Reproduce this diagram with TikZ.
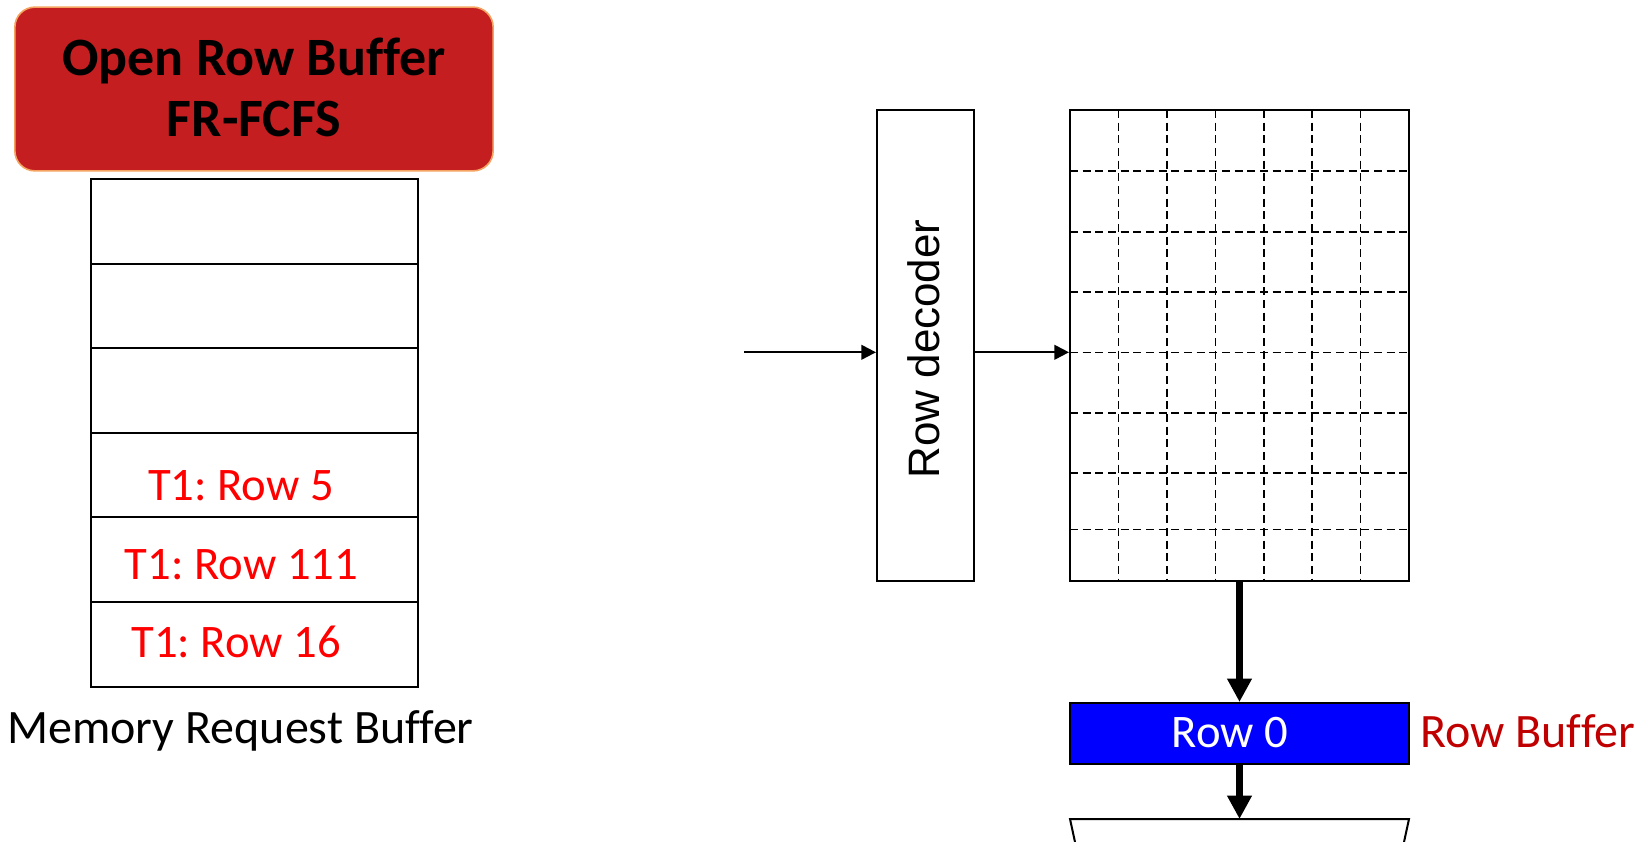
\documentclass[tikz,border=0pt]{standalone}
\usepackage{fontspec}
\setmainfont[Ligatures=NoCommon]{Carlito}
\newfontfamily\arialf{Liberation Sans}
\usetikzlibrary{arrows.meta,calc}
\definecolor{titlered}{RGB}{196,30,32}
\definecolor{titleedge}{RGB}{244,164,96}
\definecolor{reqred}{RGB}{255,0,0}
\definecolor{bufred}{RGB}{192,0,0}
\definecolor{rowblue}{RGB}{0,0,255}
\frenchspacing
\begin{document}
\begin{tikzpicture}[x=0.75pt,y=-0.75pt,
  cell/.style={draw=black,line width=1.5pt,inner sep=0pt,outer sep=0pt,
    minimum width=245.25pt,minimum height=63.45pt},
  bigtxt/.style={font=\fontsize{35}{42}\selectfont,inner sep=0pt,anchor=base},
  thinarrow/.style={line width=1.6pt,-{Triangle[length=11pt,width=11pt]}},
  thickarrow/.style={line width=5.5pt,-{Triangle[length=17.5pt,width=17.5pt]}},
  gridline/.style={line width=1.2pt,dash pattern=on 6pt off 3.5pt}]
\useasboundingbox (0,0) rectangle (1645,842);
\clip (0,0) rectangle (1645,842);

% title box
\node[draw=titleedge,fill=titlered,line width=1.2pt,rounded corners=15pt,
  minimum width=358.7pt,minimum height=122.8pt,inner sep=0pt] (title) at (254,89) {};
\node[font=\bfseries\fontsize{40.5}{48}\selectfont,inner sep=0pt,anchor=base] (t1) at (254,75) {Open Row Buffer};
\node[font=\bfseries\fontsize{40.5}{48}\selectfont,inner sep=0pt,anchor=base] (t2) at (254,137) {FR-FCFS};

% memory request buffer
\foreach \i in {1,...,6} {
  \node[cell] (r\i) at (254.2,{179+84.6*(\i-0.5)}) {};
}
\node[bigtxt,text=reqred] (q1) at (241,500) {T1: Row 5};
\node[bigtxt,text=reqred] (q2) at (241.5,579) {T1: Row 111};
\node[bigtxt,text=reqred] (q3) at (236,657) {T1: Row 16};
\node[bigtxt,font=\fontsize{36}{42}\selectfont] (mrb) at (240.5,743) {Memory Request Buffer};

% row decoder
\node[draw=black,line width=1.5pt,inner sep=0pt,minimum width=72.5pt,minimum height=353.25pt] (dec) at (925.3,345.5) {};
\node[rotate=90,font=\arialf\fontsize{33}{38}\selectfont,inner sep=0pt] (dectxt) at (924,349) {Row decoder};

% grid
\node[draw=black,line width=1.5pt,inner sep=0pt,minimum width=254.25pt,minimum height=353.25pt] (grid) at (1239.5,345.5) {};
\foreach \k in {1,...,6} {
  \draw[gridline] ({1070+48.43*\k},110) -- ({1070+48.43*\k},581);
}
\foreach \yy in {171,231.7,292,352.3,412.7,472.7,529.3} {
  \draw[gridline] (1070,\yy) -- (1409,\yy);
}

% arrows into decoder and grid
\coordinate (inp) at (744,352.3);
\draw[thinarrow] (inp) -- (inp -| dec.west);
\draw[thinarrow] (dec.east |- inp) -- (grid.west |- inp);

% row buffer
\node[draw=black,line width=1.5pt,fill=rowblue,inner sep=0pt,minimum width=254.25pt,minimum height=45.75pt] (row0) at (1239.5,733.5) {};
\node[bigtxt,text=white] (row0txt) at (1230,747) {Row 0};
\node[bigtxt,anchor=base west,text=bufred,font=\fontsize{36}{42}\selectfont] (rbl) at (1420,747) {Row Buffer};

\draw[thickarrow] (grid.south) -- (row0.north);

% column mux (cut off)
\coordinate (muxtop) at (1239.5,819);
\draw[line width=1.5pt] (1087.6,900) -- (1070,819) -- (1409,819) -- (1391.4,900);
\draw[thickarrow] (row0.south) -- (muxtop);
\end{tikzpicture}
\end{document}
